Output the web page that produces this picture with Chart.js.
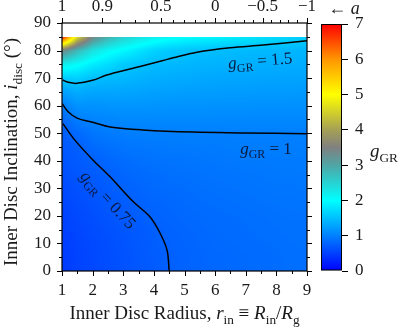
<!DOCTYPE html>
<html>
<head>
<meta charset="utf-8">
<script src="https://cdn.jsdelivr.net/npm/chart.js@4.4.0/dist/chart.umd.min.js"></script>
<style>
  html, body { margin: 0; padding: 0; background: #fff; }
  #wrap { position: relative; width: 411px; height: 329px; }
  #main { position: absolute; left: 0; top: 0; }
  #cbar { position: absolute; left: 310px; top: 0; }
</style>
</head>
<body>
<div id="wrap">
  <canvas id="main" width="411" height="329"></canvas>
  <canvas id="cbar" width="101" height="329"></canvas>
</div>
<script>
const FONT = "'Liberation Serif', 'DejaVu Serif', serif";
const INK = '#1a1a1a';

// grid of g_GR values: columns are r_in, rows are inclination
const radius = [1, 1.5, 2, 2.5, 3, 3.5, 4, 4.5, 5, 5.5, 6, 6.5, 7, 7.5, 8, 8.5, 9];
const incl = [0, 5, 10, 15, 20, 25, 30, 35, 40, 45, 50, 55, 60, 65, 70, 75, 80, 85];
const gGrid = [
  [0.45, 0.52, 0.56, 0.60, 0.64, 0.68, 0.71, 0.75, 0.77, 0.79, 0.81, 0.82, 0.83, 0.84, 0.85, 0.86, 0.87],
  [0.46, 0.52, 0.56, 0.60, 0.64, 0.68, 0.72, 0.75, 0.77, 0.79, 0.81, 0.82, 0.83, 0.84, 0.85, 0.86, 0.87],
  [0.47, 0.53, 0.57, 0.61, 0.65, 0.69, 0.73, 0.76, 0.78, 0.80, 0.82, 0.83, 0.84, 0.85, 0.86, 0.87, 0.88],
  [0.49, 0.55, 0.59, 0.63, 0.67, 0.71, 0.74, 0.77, 0.79, 0.81, 0.83, 0.84, 0.85, 0.86, 0.87, 0.88, 0.88],
  [0.51, 0.57, 0.61, 0.66, 0.70, 0.73, 0.77, 0.79, 0.81, 0.83, 0.84, 0.85, 0.86, 0.87, 0.88, 0.89, 0.89],
  [0.54, 0.60, 0.64, 0.69, 0.72, 0.76, 0.79, 0.81, 0.83, 0.85, 0.86, 0.87, 0.88, 0.89, 0.90, 0.90, 0.91],
  [0.57, 0.63, 0.67, 0.72, 0.76, 0.79, 0.82, 0.84, 0.85, 0.87, 0.88, 0.89, 0.90, 0.91, 0.92, 0.92, 0.93],
  [0.61, 0.67, 0.71, 0.75, 0.80, 0.83, 0.85, 0.87, 0.88, 0.89, 0.90, 0.91, 0.92, 0.93, 0.94, 0.94, 0.95],
  [0.65, 0.71, 0.75, 0.80, 0.85, 0.87, 0.89, 0.90, 0.91, 0.92, 0.93, 0.94, 0.95, 0.95, 0.96, 0.96, 0.96],
  [0.69, 0.74, 0.83, 0.87, 0.91, 0.93, 0.94, 0.95, 0.95, 0.96, 0.96, 0.97, 0.97, 0.97, 0.98, 0.98, 0.98],
  [0.73, 0.82, 0.92, 0.96, 0.98, 0.99, 0.99, 0.99, 0.995, 0.995, 0.995, 0.995, 0.995, 0.995, 0.995, 0.995, 0.995],
  [0.80, 0.98, 1.03, 1.05, 1.07, 1.07, 1.07, 1.07, 1.07, 1.07, 1.07, 1.06, 1.06, 1.06, 1.06, 1.06, 1.06],
  [0.98, 1.15, 1.15, 1.16, 1.17, 1.17, 1.16, 1.15, 1.15, 1.15, 1.14, 1.14, 1.14, 1.13, 1.13, 1.13, 1.13],
  [1.25, 1.35, 1.30, 1.30, 1.30, 1.28, 1.26, 1.25, 1.24, 1.23, 1.23, 1.22, 1.22, 1.21, 1.21, 1.21, 1.20],
  [1.60, 1.62, 1.50, 1.47, 1.44, 1.40, 1.37, 1.35, 1.34, 1.32, 1.31, 1.30, 1.30, 1.29, 1.29, 1.28, 1.28],
  [2.20, 2.05, 1.85, 1.73, 1.58, 1.52, 1.47, 1.45, 1.43, 1.41, 1.40, 1.39, 1.38, 1.37, 1.36, 1.36, 1.35],
  [3.40, 2.80, 2.35, 2.10, 1.95, 1.80, 1.65, 1.58, 1.54, 1.51, 1.49, 1.47, 1.46, 1.45, 1.44, 1.43, 1.42],
  [7.00, 4.60, 3.40, 2.90, 2.55, 2.35, 2.20, 2.10, 2.02, 1.97, 1.92, 1.87, 1.82, 1.77, 1.72, 1.67, 1.62]
];

// contour lines (r_in, inclination)
const c075R = [1.03, 1.42, 2.01, 2.57, 3.33, 3.87, 4.2, 4.43, 4.5];
const c075I = [53.5, 47.5, 40.3, 34.2, 25.1, 19.7, 13.8, 7.6, 0];
const c1R = [1.0, 1.2, 1.49, 2.0, 2.57, 3.64, 5.28, 6.9, 9];
const c1I = [60.8, 57.8, 55.5, 54.0, 52.3, 51.2, 50.4, 50.1, 49.8];
const c15R = [1.02, 1.2, 1.48, 2.0, 2.46, 3.22, 3.55, 4.3, 4.63, 5.41, 6.49, 7.57, 9];
const c15I = [69.3, 68.5, 68.1, 69.2, 71.1, 73.3, 74.2, 76.4, 77.4, 79.4, 81.0, 82.0, 83.6];

// top axis: spin a, placed at its r_in
const spinLabels = ['1', '0.9', '0.5', '0', '\u22120.5', '\u22121'];
const spinTickR = [1, 2.32, 4.23, 6, 7.55, 9];
const spinMinorR = [2.91, 3.39, 3.83, 4.61, 4.98, 5.33, 5.67, 6.32, 6.64, 6.95, 7.25, 7.83, 8.11, 8.39, 8.66];

// colour bar
const cbarStops = [0, 1, 2, 3, 3.5, 4, 5, 6, 7];
const cbarColors = [[0, 0, 255], [0, 128, 255], [0, 255, 255], [80, 165, 165], [128, 128, 128],
                    [165, 160, 85], [255, 255, 0], [255, 150, 0], [255, 0, 0]];

function cmap(v) {
  if (v <= cbarStops[0]) return cbarColors[0];
  for (let k = 0; k < cbarStops.length - 1; k++) {
    if (v <= cbarStops[k + 1]) {
      const t = (v - cbarStops[k]) / (cbarStops[k + 1] - cbarStops[k]);
      const a = cbarColors[k], b = cbarColors[k + 1];
      return [a[0] + (b[0] - a[0]) * t, a[1] + (b[1] - a[1]) * t, a[2] + (b[2] - a[2]) * t];
    }
  }
  return cbarColors[cbarColors.length - 1];
}

function lookup(arr, v) {
  let k = 0;
  while (k < arr.length - 2 && v > arr[k + 1]) k++;
  const t = Math.min(1, Math.max(0, (v - arr[k]) / (arr[k + 1] - arr[k])));
  return [k, t];
}

function gAt(r, inc) {
  const [c, tx] = lookup(radius, r);
  const [k, ty] = lookup(incl, inc);
  const a = gGrid[k][c] * (1 - tx) + gGrid[k][c + 1] * tx;
  const b = gGrid[k + 1][c] * (1 - tx) + gGrid[k + 1][c + 1] * tx;
  return a * (1 - ty) + b * ty;
}

// draw text made of pieces, some italic or subscript
function drawRich(ctx, parts, x, y, size) {
  const pieceFont = p => (p.it ? 'italic ' : '') + (p.sub ? size * 0.7 : size) + 'px ' + FONT;
  let w = 0;
  parts.forEach(p => { ctx.font = pieceFont(p); w += ctx.measureText(p.t).width; });
  let cx = x - w / 2;
  ctx.textAlign = 'left';
  ctx.textBaseline = 'alphabetic';
  parts.forEach(p => {
    ctx.font = pieceFont(p);
    ctx.fillText(p.t, cx, y + (p.sub ? size * 0.25 : 0));
    cx += ctx.measureText(p.t).width;
  });
}

function gLabel(val) {
  return [{ t: 'g', it: true }, { t: 'GR', sub: true }, { t: ' = ' + val }];
}

const heatmapPlugin = {
  id: 'heatmap',
  beforeDatasetsDraw(chart) {
    const { ctx, chartArea: ca, scales } = chart;
    const w = Math.round(ca.right - ca.left), h = Math.round(ca.bottom - ca.top);
    const off = document.createElement('canvas');
    off.width = w; off.height = h;
    const octx = off.getContext('2d');
    const img = octx.createImageData(w, h);
    for (let py = 0; py < h; py++) {
      const inc = scales.y.getValueForPixel(ca.top + py + 0.5);
      for (let px = 0; px < w; px++) {
        const r = scales.x.getValueForPixel(ca.left + px + 0.5);
        const o = (py * w + px) * 4;
        if (inc > incl[incl.length - 1]) { img.data[o + 3] = 0; continue; }
        const c = cmap(gAt(r, inc));
        img.data[o] = c[0]; img.data[o + 1] = c[1]; img.data[o + 2] = c[2]; img.data[o + 3] = 255;
      }
    }
    octx.putImageData(img, 0, 0);
    ctx.drawImage(off, ca.left, ca.top);
  },
  afterDatasetsDraw(chart) {
    const { ctx, chartArea: ca, scales } = chart;
    const xs = scales.x, ys = scales.y;
    ctx.save();
    ctx.strokeStyle = '#000';
    ctx.lineWidth = 1.2;
    ctx.strokeRect(ca.left, ca.top, ca.right - ca.left, ca.bottom - ca.top);
    ctx.lineWidth = 1;
    ctx.beginPath();
    for (let r = 1; r <= 9; r += 0.5) {
      const px = Math.round(xs.getPixelForValue(r)) + 0.5;
      const len = Number.isInteger(r) ? 5 : 3;
      ctx.moveTo(px, ca.bottom); ctx.lineTo(px, ca.bottom + len);
    }
    spinTickR.forEach(r => {
      const px = Math.round(xs.getPixelForValue(r)) + 0.5;
      ctx.moveTo(px, ca.top); ctx.lineTo(px, ca.top - 5);
    });
    spinMinorR.forEach(r => {
      const px = Math.round(xs.getPixelForValue(r)) + 0.5;
      ctx.moveTo(px, ca.top); ctx.lineTo(px, ca.top - 3);
    });
    for (let v = 0; v <= 90; v += 5) {
      const py = Math.round(ys.getPixelForValue(v)) + 0.5;
      const len = v % 10 === 0 ? 5 : 3;
      ctx.moveTo(ca.left, py); ctx.lineTo(ca.left - len, py);
      ctx.moveTo(ca.right, py); ctx.lineTo(ca.right + len, py);
    }
    ctx.stroke();

    // contour labels
    ctx.fillStyle = '#0a1a40';
    const labels = [
      { v: '1.5', r: 7.47, i: 76.2, rot: -5 },
      { v: '1', r: 7.66, i: 44.3, rot: 0 },
      { v: '0.75', r: 2.5, i: 25.8, rot: 47 }
    ];
    labels.forEach(l => {
      ctx.save();
      ctx.translate(xs.getPixelForValue(l.r), ys.getPixelForValue(l.i));
      ctx.rotate(l.rot * Math.PI / 180);
      drawRich(ctx, gLabel(l.v), 0, 5, 17);
      ctx.restore();
    });
    ctx.restore();
  },
  afterDraw(chart) {
    const { ctx, chartArea: ca } = chart;
    ctx.save();
    ctx.fillStyle = INK;
    drawRich(ctx, [
      { t: 'Inner Disc Radius, ' }, { t: 'r', it: true }, { t: 'in', sub: true },
      { t: ' \u2261 ' }, { t: 'R', it: true }, { t: 'in', sub: true },
      { t: '/' }, { t: 'R', it: true }, { t: 'g', sub: true }
    ], (ca.left + ca.right) / 2, 319, 19);
    ctx.translate(17, 152);
    ctx.rotate(-Math.PI / 2);
    drawRich(ctx, [
      { t: 'Inner Disc Inclination, ' }, { t: 'i', it: true }, { t: 'disc', sub: true },
      { t: ' (\u00b0)' }
    ], 0, 0, 19);
    ctx.restore();
  }
};

const tickFont = { family: FONT, size: 17 };

new Chart(document.getElementById('main'), {
  type: 'scatter',
  data: {
    datasets: [
      { data: c075R.map((r, k) => ({ x: r, y: c075I[k] })) },
      { data: c1R.map((r, k) => ({ x: r, y: c1I[k] })) },
      { data: c15R.map((r, k) => ({ x: r, y: c15I[k] })) }
    ].map(d => Object.assign(d, {
      showLine: true, borderColor: '#000', borderWidth: 1.5, pointRadius: 0, tension: 0.35, fill: false
    }))
  },
  options: {
    responsive: false,
    animation: false,
    devicePixelRatio: 1,
    events: [],
    layout: { padding: 0 },
    plugins: { legend: { display: false }, tooltip: { enabled: false } },
    scales: {
      x: {
        type: 'linear', position: 'bottom', min: 1, max: 9,
        grid: { display: false, drawTicks: false }, border: { display: false },
        ticks: { stepSize: 1, font: tickFont, color: INK, padding: 9, maxRotation: 0 },
        afterFit: s => { s.height = 58; }
      },
      x2: {
        type: 'linear', position: 'top', min: 1, max: 9,
        grid: { display: false, drawTicks: false }, border: { display: false },
        afterBuildTicks: s => { s.ticks = spinTickR.map(v => ({ value: v })); },
        ticks: { autoSkip: false, font: tickFont, color: INK, padding: 6, maxRotation: 0,
                 callback: (v, idx) => spinLabels[idx] },
        afterFit: s => { s.height = 23; }
      },
      y: {
        type: 'linear', position: 'left', min: 0, max: 90,
        grid: { display: false, drawTicks: false }, border: { display: false },
        ticks: { stepSize: 10, font: tickFont, color: INK, padding: 11 },
        afterFit: s => { s.width = 62; }
      },
      y2: {
        type: 'linear', position: 'right', min: 0, max: 90,
        grid: { display: false, drawTicks: false }, border: { display: false },
        ticks: { display: false },
        afterFit: s => { s.width = 104; }
      }
    }
  },
  plugins: [heatmapPlugin]
});

// colour bar
const cbarLevels = [0, 7];
const cbarLabelPlugin = {
  id: 'cbarLabel',
  afterDraw(chart) {
    const { ctx } = chart;
    ctx.save();
    ctx.fillStyle = INK;
    drawRich(ctx, [{ t: 'g', it: true }, { t: 'GR', sub: true }], 74, 157, 19);
    drawRich(ctx, [{ t: '\u2190 ' }, { t: 'a', it: true }], 34, 14, 18);
    ctx.restore();
  }
};

new Chart(document.getElementById('cbar'), {
  type: 'bar',
  data: {
    labels: ['g'],
    datasets: [{
      data: [cbarLevels],
      backgroundColor: c => {
        const chart = c.chart;
        if (!chart.chartArea) return '#888';
        const ys = chart.scales.y;
        const grad = chart.ctx.createLinearGradient(0, ys.getPixelForValue(cbarLevels[0]), 0, ys.getPixelForValue(cbarLevels[1]));
        cbarStops.forEach((s, k) => {
          const col = cbarColors[k];
          grad.addColorStop(s / cbarLevels[1], 'rgb(' + col.join(',') + ')');
        });
        return grad;
      },
      borderColor: '#000', borderWidth: 1.3, borderSkipped: false,
      barPercentage: 1, categoryPercentage: 1
    }]
  },
  options: {
    responsive: false,
    animation: false,
    devicePixelRatio: 1,
    events: [],
    layout: { padding: { left: 11, top: 24, bottom: 58, right: 0 } },
    plugins: { legend: { display: false }, tooltip: { enabled: false } },
    scales: {
      x: { display: false },
      y: {
        position: 'right', min: 0, max: 7,
        grid: { display: true, drawOnChartArea: false, drawTicks: true, tickLength: 6, tickColor: '#000', lineWidth: 1 },
        border: { display: false },
        ticks: { stepSize: 1, font: tickFont, color: INK, padding: 7 },
        afterFit: s => { s.width = 69; }
      }
    }
  },
  plugins: [cbarLabelPlugin]
});
</script>
</body>
</html>
